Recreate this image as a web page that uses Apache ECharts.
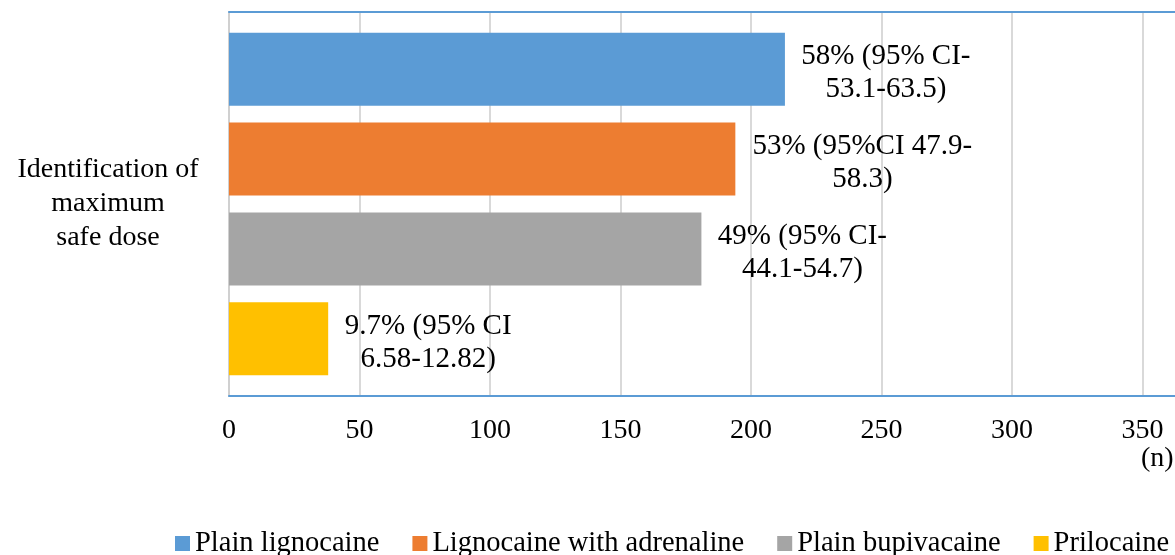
<!DOCTYPE html>
<html>
<head>
<meta charset="utf-8">
<script src="https://cdn.jsdelivr.net/npm/echarts@6/dist/echarts.min.js"></script>
<style>
html,body{margin:0;padding:0;background:#fff;}
#chart{width:1175px;height:555px;}
</style>
</head>
<body>
<div id="chart"></div>
<script>
const categories = ['Identification of\nmaximum\nsafe dose'];
const seriesNames = ['Plain lignocaine', 'Lignocaine with adrenaline', 'Plain bupivacaine', 'Prilocaine'];
const plainLignocaine = [213];
const lignocaineAdrenaline = [194];
const plainBupivacaine = [181];
const prilocaine = [38];
const valueLabels = [
  '58% (95% CI-\n53.1-63.5)',
  '53% (95%CI 47.9-\n58.3)',
  '49% (95% CI-\n44.1-54.7)',
  '9.7% (95% CI\n6.58-12.82)'
];
const xTicks = [0, 50, 100, 150, 200, 250, 300, 350, 400];

const FONT = "'Liberation Serif', 'Times New Roman', serif";
const colors = ['#5B9BD5', '#ED7D31', '#A5A5A5', '#FFC000'];
const labelOffsets = [101, 127, 101, 100];
const seriesData = [plainLignocaine, lignocaineAdrenaline, plainBupivacaine, prilocaine];

const chart = echarts.init(document.getElementById('chart'), null, {renderer: 'canvas'});
chart.setOption({
  animation: false,
  textStyle: {fontFamily: FONT},
  grid: {left: 229, right: -98, top: 12, bottom: 159, containLabel: false, outerBoundsMode: 'none'},
  legend: {
    data: seriesNames,
    left: 170,
    top: 524,
    width: 1200,
    icon: 'rect',
    itemWidth: 15,
    itemHeight: 15,
    itemGap: 33,
    textStyle: {fontFamily: FONT, fontSize: 28.5, color: '#000'}
  },
  xAxis: [{
    type: 'value',
    min: xTicks[0],
    max: xTicks[xTicks.length - 1],
    interval: 50,
    position: 'bottom',
    axisLine: {show: true, lineStyle: {color: '#5B9BD5', width: 2}},
    axisTick: {show: false},
    axisLabel: {fontFamily: FONT, fontSize: 28, color: '#000', margin: 21},
    splitLine: {show: true, lineStyle: {color: '#D9D9D9', width: 2}}
  }, {
    type: 'value',
    min: xTicks[0],
    max: xTicks[xTicks.length - 1],
    position: 'top',
    axisLine: {show: true, lineStyle: {color: '#5B9BD5', width: 2}},
    axisTick: {show: false},
    axisLabel: {show: false},
    splitLine: {show: false}
  }],
  yAxis: {
    type: 'category',
    data: categories,
    inverse: true,
    axisLine: {show: true, lineStyle: {color: '#D0D0D0', width: 2}},
    axisTick: {show: false},
    axisLabel: {fontFamily: FONT, fontSize: 28, color: '#000', align: 'center', margin: 121, lineHeight: 34, padding: [4, 0, 0, 0]}
  },
  graphic: [{
    type: 'text',
    left: 1141,
    top: 445,
    style: {text: '(n)', font: "28px 'Liberation Serif', serif", fill: '#000'}
  }],
  series: seriesNames.map((name, i) => ({
    name: name,
    type: 'bar',
    xAxisIndex: 0,
    data: seriesData[i],
    barWidth: 73,
    barGap: '23%',
    itemStyle: {color: colors[i]},
    label: {
      show: true,
      position: 'right',
      distance: 0,
      align: 'center',
      offset: [labelOffsets[i], 4],
      formatter: valueLabels[i],
      fontFamily: FONT,
      fontSize: 29,
      lineHeight: 33,
      color: '#000'
    }
  }))
});
</script>
</body>
</html>
